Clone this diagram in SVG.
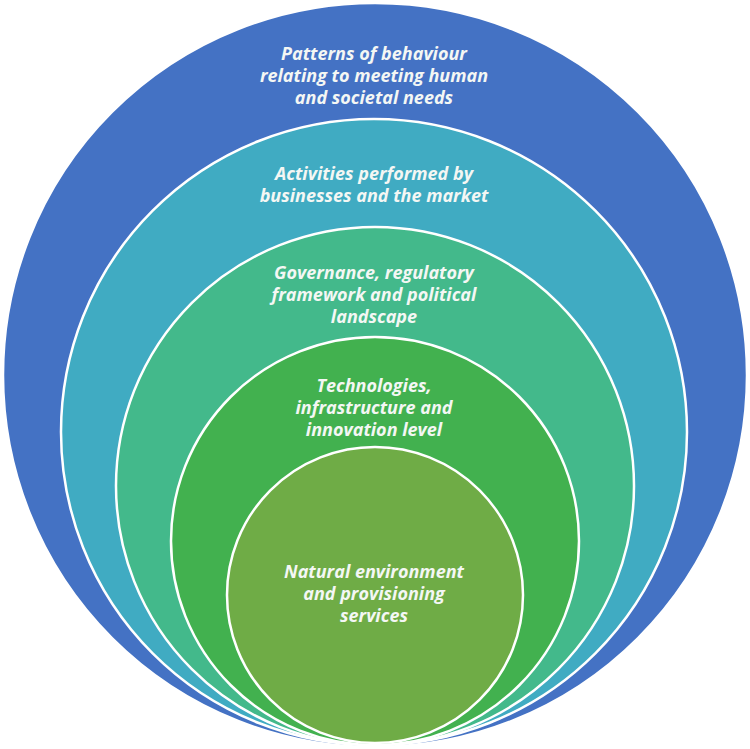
<svg xmlns="http://www.w3.org/2000/svg" width="750" height="749" viewBox="0 0 750 749">
<style>
.ring{stroke:#ffffff;stroke-width:2.5}
.lbl{font-family:"Open Sans","Liberation Sans",sans-serif;font-style:italic;font-weight:700;font-size:18px;fill:#f4f7f4;text-anchor:middle}
</style>
<rect width="750" height="749" fill="#ffffff"/>
<g id="n1"><circle class="ring" cx="375" cy="375" r="372" fill="#4472C4"/>
<text class="lbl"><tspan x="374" y="60">Patterns of behaviour</tspan><tspan x="374" y="82">relating to meeting human</tspan><tspan x="374" y="104">and societal needs</tspan></text></g>
<g id="n2"><circle class="ring" cx="374" cy="432" r="313" fill="#40ABC2"/>
<text class="lbl"><tspan x="374" y="180">Activities performed by</tspan><tspan x="374" y="202">businesses and the market</tspan></text></g>
<g id="n3"><circle class="ring" cx="375" cy="486" r="259" fill="#43B98B"/>
<text class="lbl"><tspan x="374" y="279">Governance, regulatory</tspan><tspan x="374" y="301">framework and political</tspan><tspan x="374" y="323">landscape</tspan></text></g>
<g id="n4"><circle class="ring" cx="375" cy="541" r="204" fill="#42B14F"/>
<text class="lbl"><tspan x="374" y="392">Technologies,</tspan><tspan x="374" y="414">infrastructure and</tspan><tspan x="374" y="436">innovation level</tspan></text></g>
<g id="n5"><circle class="ring" cx="375" cy="595" r="148" fill="#6FAC46"/>
<text class="lbl"><tspan x="374" y="578">Natural environment</tspan><tspan x="374" y="600">and provisioning</tspan><tspan x="374" y="622">services</tspan></text></g>
<g id="connectors"/>
</svg>
